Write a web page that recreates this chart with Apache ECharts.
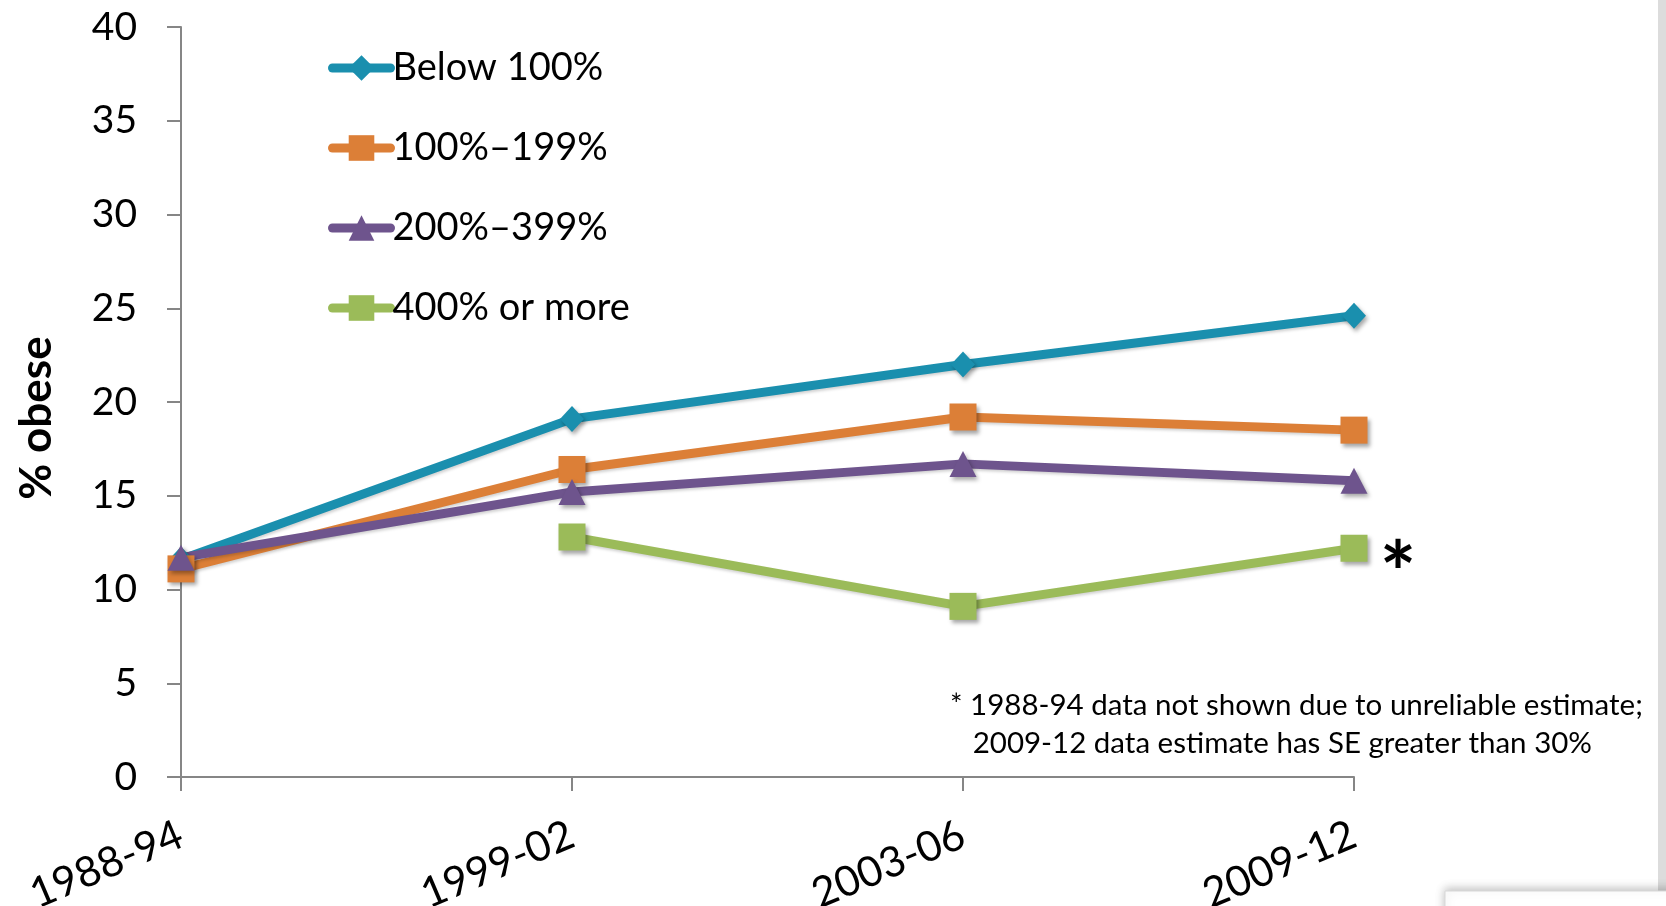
<!DOCTYPE html>
<html>
<head>
<meta charset="utf-8">
<script src="https://cdn.jsdelivr.net/npm/echarts@6/dist/echarts.min.js"></script>
<style>
  html, body { margin: 0; padding: 0; background: #fff; }
  #chart { width: 1666px; height: 906px; }
</style>
</head>
<body>
<div id="chart"></div>
<script>
// Survey periods on the x axis
const periods = ['1988-94', '1999-02', '2003-06', '2009-12'];

// Percent obese by family income as a share of the poverty level
const below100 = [11.6, 19.1, 22.0, 24.6];
const pct100to199 = [11.1, 16.4, 19.2, 18.5];
const pct200to399 = [11.7, 15.2, 16.7, 15.8];
const pct400plus = [null, 12.8, 9.1, 12.2];   // 1988-94 estimate not shown

const seriesNames = ['Below 100%', '100%\u2013199%', '200%\u2013399%', '400% or more'];
const yTicks = { min: 0, max: 40, step: 5 };

const footnote = ['* 1988-94 data not shown due to unreliable estimate;',
                  '   2009-12 data estimate has SE greater than 30%'];

const FONT = 'Lato, "Open Sans", sans-serif';
const colors = ['#1A8FAE', '#DC7F37', '#6E548D', '#9BBB59'];

const shadow = {
  shadowColor: 'rgba(0,0,0,0.35)',
  shadowBlur: 4,
  shadowOffsetX: 2,
  shadowOffsetY: 3
};

function makeSeries(name, data, color, symbol, size) {
  return {
    name: name,
    type: 'line',
    data: data,
    symbol: symbol,
    symbolSize: size,
    connectNulls: false,
    lineStyle: {
      color: color, width: 9,
      shadowColor: 'rgba(0,0,0,0.18)', shadowBlur: 3, shadowOffsetX: 1, shadowOffsetY: 2
    },
    itemStyle: Object.assign({ color: color }, shadow),
    emphasis: { disabled: true },
    animation: false
  };
}

const chart = echarts.init(document.getElementById('chart'));
chart.setOption({
  backgroundColor: '#ffffff',
  animation: false,
  color: colors,
  grid: { left: 181, right: 312, top: 27, bottom: 129, containLabel: false, outerBoundsMode: 'none' },
  legend: {
    orient: 'vertical',
    left: 323,
    top: 43,
    itemWidth: 58,
    itemHeight: 32,
    itemGap: 40,
    selectedMode: false,
    lineStyle: { width: 9, cap: 'round' },
    textStyle: { fontFamily: FONT, fontSize: 38, lineHeight: 40, color: '#000', padding: [0, 0, 0, -3] },
    data: seriesNames
  },
  xAxis: {
    type: 'category',
    data: periods,
    boundaryGap: false,
    axisLine: { lineStyle: { color: '#868686', width: 2 } },
    axisTick: { show: true, length: 14, alignWithLabel: true, lineStyle: { color: '#868686', width: 2 } },
    axisLabel: {
      rotate: 23,
      margin: 56,
      fontFamily: FONT,
      fontSize: 42,
      color: '#000'
    },
    splitLine: { show: false }
  },
  yAxis: {
    type: 'value',
    min: yTicks.min,
    max: yTicks.max,
    interval: yTicks.step,
    axisLine: { show: true, lineStyle: { color: '#868686', width: 2 } },
    axisTick: { show: true, length: 14, lineStyle: { color: '#868686', width: 2 } },
    axisLabel: { margin: 44, fontFamily: FONT, fontSize: 39, color: '#000' },
    splitLine: { show: false }
  },
  series: [
    makeSeries(seriesNames[0], below100, colors[0], 'diamond', [24, 26]),
    makeSeries(seriesNames[1], pct100to199, colors[1], 'rect', 27),
    makeSeries(seriesNames[2], pct200to399, colors[2], 'triangle', [27, 26]),
    makeSeries(seriesNames[3], pct400plus, colors[3], 'rect', 27)
  ],
  graphic: [
    {
      type: 'text',
      x: 37, y: 418,
      rotation: Math.PI / 2,
      style: {
        text: '% obese',
        font: 'bold 44px ' + FONT,
        fill: '#000',
        align: 'center',
        verticalAlign: 'middle'
      }
    },
    {
      type: 'text',
      x: 1398, y: 576,
      style: {
        text: '*',
        font: 'bold 86px ' + FONT,
        fill: '#000',
        align: 'center',
        verticalAlign: 'middle'
      }
    },
    {
      type: 'text',
      x: 950, y: 724,
      style: {
        text: footnote.join('\n'),
        font: '29.5px ' + FONT,
        lineHeight: 38,
        fill: '#000',
        align: 'left',
        verticalAlign: 'middle'
      }
    },
    {
      type: 'rect',
      shape: { x: 1658, y: 0, width: 8, height: 906 },
      style: { fill: '#dcdcdc' },
      z: 10
    },
    {
      type: 'rect',
      shape: { x: 1445, y: 891, width: 240, height: 30 },
      style: { fill: '#ffffff', stroke: '#d8d8d8', lineWidth: 1,
               shadowColor: 'rgba(0,0,0,0.25)', shadowBlur: 10, shadowOffsetY: -2 },
      z: 11
    }
  ]
});
</script>
</body>
</html>
